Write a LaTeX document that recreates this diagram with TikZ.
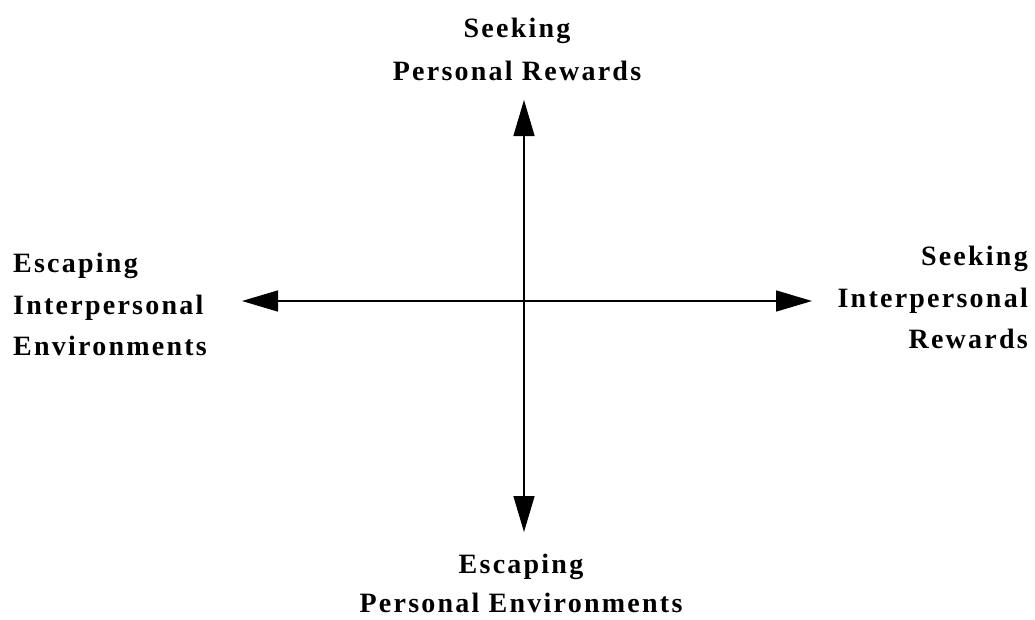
\documentclass[tikz,border=0pt]{standalone}
\usepackage{fontspec}
\setmainfont{Liberation Serif}[LetterSpace=8]
\usetikzlibrary{arrows.meta}
\begin{document}
\begin{tikzpicture}[x=1pt,y=-1pt,
  lbl/.style={inner sep=0pt, font=\bfseries\fontsize{28}{41.5}\selectfont},
  axis/.style={line width=1.5pt, -{Triangle[length=36pt,width=21pt]}}]
\useasboundingbox (0,0) rectangle (1035,619);
\coordinate (c) at (524,301);
\coordinate (up) at (524,100);
\coordinate (dn) at (524,532);
\coordinate (lt) at (242,301);
\coordinate (rt) at (812,301);
\draw[axis] (c) -- (up);
\draw[axis] (c) -- (dn);
\draw[axis] (c) -- (lt);
\draw[axis] (c) -- (rt);
\node[lbl, align=center, anchor=north, font=\bfseries\fontsize{28}{43}\selectfont] (top) at (517,18) {Seeking\\Personal Rewards};
\node[lbl, align=center, anchor=north, font=\bfseries\fontsize{28}{39}\selectfont] (bot) at (521,554) {Escaping\\Personal Environments};
\node[lbl, align=left, anchor=north west] (left) at (13,253) {Escaping\\Interpersonal\\Environments};
\node[lbl, align=right, anchor=north east] (right) at (1028,246) {Seeking\\Interpersonal\\Rewards};
\end{tikzpicture}
\end{document}
